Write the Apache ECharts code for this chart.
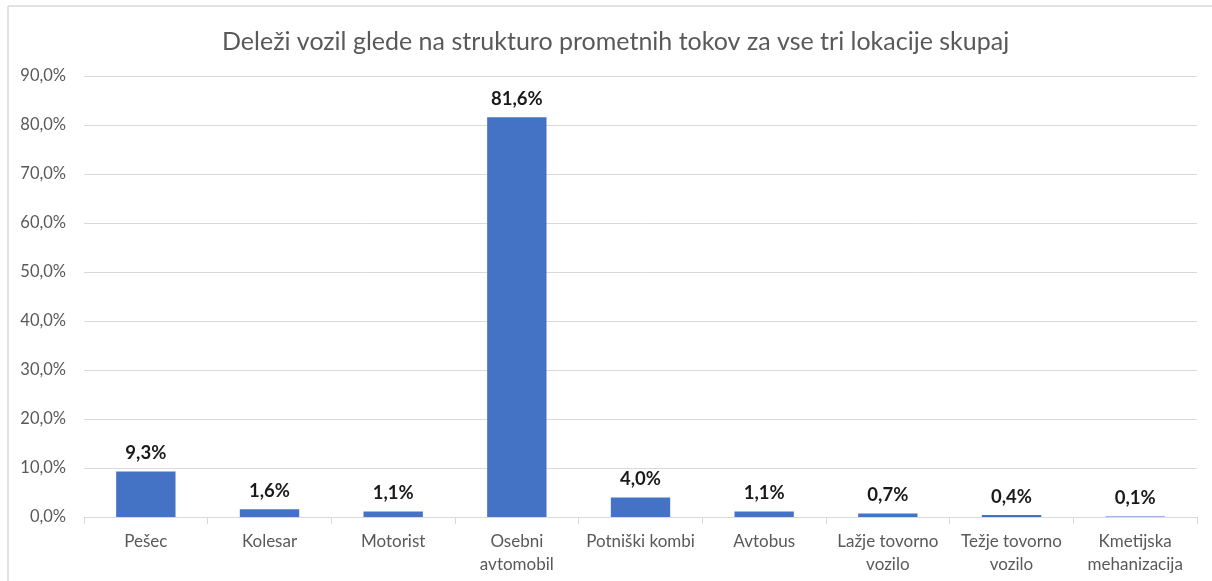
<!DOCTYPE html>
<html>
<head>
<meta charset="utf-8">
<script src="https://cdn.jsdelivr.net/npm/echarts@6/dist/echarts.min.js"></script>
<style>
html,body{margin:0;padding:0;background:#fff;}
#chart{width:1212px;height:581px;}
</style>
</head>
<body>
<div id="chart"></div>
<script>
const titleText = 'Deleži vozil glede na strukturo prometnih tokov za vse tri lokacije skupaj';
const categories = ['Pešec', 'Kolesar', 'Motorist', 'Osebni\navtomobil', 'Potniški kombi', 'Avtobus', 'Lažje tovorno\nvozilo', 'Težje tovorno\nvozilo', 'Kmetijska\nmehanizacija'];
const shares = [9.3, 1.6, 1.1, 81.6, 4.0, 1.1, 0.7, 0.4, 0.1];
const yTicks = { min: 0, max: 90, interval: 10 };

const FONT = 'Lato, "Open Sans", sans-serif';
const fmt = v => v.toFixed(1).replace('.', ',') + '%';

const chart = echarts.init(document.getElementById('chart'), null, { renderer: 'canvas' });
chart.setOption({
  backgroundColor: '#ffffff',
  animation: false,
  textStyle: { fontFamily: FONT },
  title: {
    text: titleText,
    left: 217,
    top: 24,
    textStyle: { fontFamily: FONT, fontSize: 25, fontWeight: 'normal', color: '#595959' }
  },
  graphic: [
    { type: 'line', shape: { x1: 8, y1: 6, x2: 1212, y2: 6 }, style: { stroke: '#d9d9d9', lineWidth: 1.5 } },
    { type: 'line', shape: { x1: 8, y1: 6, x2: 8, y2: 581 }, style: { stroke: '#d9d9d9', lineWidth: 1.5 } }
  ],
  grid: { left: 84, right: 15, top: 76, bottom: 64, containLabel: false },
  xAxis: {
    type: 'category',
    data: categories,
    axisLine: { lineStyle: { color: '#d9d9d9', width: 1 } },
    axisTick: { show: true, alignWithLabel: false, length: 7, lineStyle: { color: '#d9d9d9' } },
    axisLabel: { interval: 0, margin: 13, fontSize: 17, lineHeight: 23, color: '#595959', fontFamily: FONT }
  },
  yAxis: {
    type: 'value',
    min: yTicks.min,
    max: yTicks.max,
    interval: yTicks.interval,
    axisLine: { show: false },
    axisTick: { show: false },
    splitLine: { lineStyle: { color: '#d9d9d9', width: 1 } },
    axisLabel: { formatter: fmt, fontSize: 16.5, color: '#595959', margin: 18, fontFamily: FONT }
  },
  series: [{
    type: 'bar',
    data: shares,
    barWidth: '48%',
    itemStyle: { color: '#4472C4' },
    label: {
      show: true,
      position: 'top',
      distance: 9,
      formatter: p => fmt(p.value),
      fontSize: 18.5,
      fontWeight: 'bold',
      color: '#1a1a1a',
      fontFamily: FONT
    }
  }]
});
</script>
</body>
</html>
